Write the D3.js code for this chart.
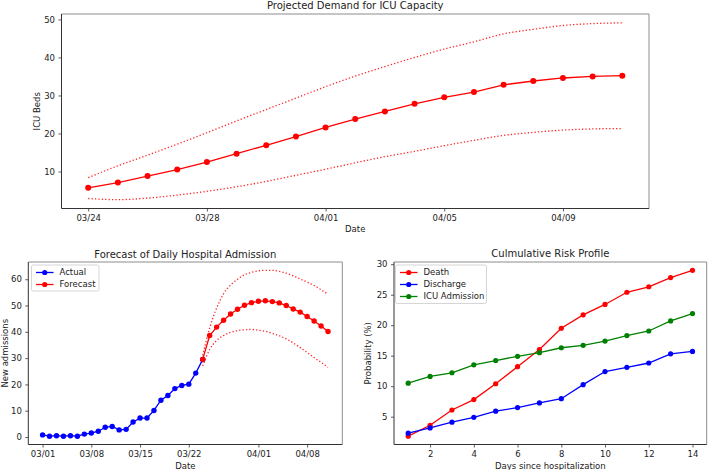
<!DOCTYPE html>
<html>
<head>
<meta charset="utf-8">
<script src="https://cdn.jsdelivr.net/npm/d3@7/dist/d3.min.js"></script>
<style>
  html, body { margin: 0; padding: 0; background: #fff; }
  svg { display: block; }
  text { font-family: "DejaVu Sans", sans-serif; fill: #222; }
</style>
</head>
<body>
<svg id="chart" width="709" height="470"></svg>
<script>
// ---------- DATA ----------
const icuDates = ["2020-03-24","2020-03-25","2020-03-26","2020-03-27","2020-03-28","2020-03-29","2020-03-30","2020-03-31","2020-04-01","2020-04-02","2020-04-03","2020-04-04","2020-04-05","2020-04-06","2020-04-07","2020-04-08","2020-04-09","2020-04-10","2020-04-11"];
const icuMean  = [5.7,7.1,8.8,10.5,12.5,14.7,16.9,19.2,21.6,23.8,25.8,27.8,29.5,30.9,32.8,33.8,34.6,35.0,35.2];
const icuUpper = [8.4,11.5,14.3,17.2,20.2,23.3,26.3,29.3,32.3,35.1,37.6,40.0,42.2,44.1,46.2,47.4,48.4,48.9,49.1];
const icuLower = [2.9,2.6,3.0,3.8,4.8,6.0,7.4,9.0,10.6,12.3,13.9,15.3,16.8,18.2,19.5,20.3,20.9,21.2,21.3];
const icuTicksX = ["2020-03-24","2020-03-28","2020-04-01","2020-04-05","2020-04-09"];
const icuTicksY = [10,20,30,40,50];

const actualDates = ["2020-03-01","2020-03-02","2020-03-03","2020-03-04","2020-03-05","2020-03-06","2020-03-07","2020-03-08","2020-03-09","2020-03-10","2020-03-11","2020-03-12","2020-03-13","2020-03-14","2020-03-15","2020-03-16","2020-03-17","2020-03-18","2020-03-19","2020-03-20","2020-03-21","2020-03-22","2020-03-23","2020-03-24"];
const actualAdm = [0.8,0.3,0.5,0.3,0.5,0.3,1.1,1.5,2.2,3.7,4.0,2.7,2.9,5.7,7.2,7.2,10.1,14.0,15.8,18.4,19.6,20.1,24.3,29.5];
const forecastDates = icuDates;
const forecastAdm   = [29.5,38.6,41.8,44.4,46.8,48.6,50.1,51.1,51.6,51.8,51.5,51.0,50.0,48.7,47.5,45.8,44.1,42.2,40.1];
const forecastUpper = [31.0,41.5,49.0,54.5,57.8,60.0,61.7,62.6,63.2,63.4,63.4,63.0,62.3,61.3,60.1,58.9,57.6,56.0,54.3];
const forecastLower = [27.0,33.3,36.7,38.6,39.8,40.4,40.8,40.9,40.6,40.2,39.4,38.5,37.3,35.8,34.0,32.1,30.2,28.4,26.5];
const admTicksX = ["2020-03-01","2020-03-08","2020-03-15","2020-03-22","2020-04-01","2020-04-08"];
const admTicksY = [0,10,20,30,40,50,60];

const riskDays = [1,2,3,4,5,6,7,8,9,10,11,12,13,14];
const riskDeath     = [1.8,3.6,6.1,7.8,10.4,13.2,16.0,19.5,21.7,23.4,25.4,26.3,27.8,29.0];
const riskDischarge = [2.3,3.15,4.1,4.9,5.9,6.5,7.25,7.95,10.25,12.4,13.1,13.8,15.3,15.7];
const riskICU       = [10.5,11.6,12.2,13.5,14.2,14.9,15.5,16.3,16.7,17.4,18.3,19.05,20.7,21.9];
const riskTicksX = [2,4,6,8,10,12,14];
const riskTicksY = [5,10,15,20,25,30];

// ---------- HELPERS ----------
const svg = d3.select("#chart");
const parse = d3.utcParse("%Y-%m-%d");
const fmt = d3.utcFormat("%m/%d");
const FS = 8.5;
const RED = "#ff0000", BLUE = "#0000ff", GREEN = "#008000";

function padExtent(vals, frac) {
  const [a, b] = d3.extent(vals);
  const m = (b - a) * frac;
  return [a - m, b + m];
}
function padTimeExtent(dates, frac) {
  const [a, b] = d3.extent(dates, d => d.getTime());
  const m = (b - a) * frac;
  return [new Date(a - m), new Date(b + m)];
}

function frame(g, box) {
  g.append("line").attr("x1", box.l).attr("x2", box.r).attr("y1", box.t).attr("y2", box.t)
    .attr("stroke", "#8c8c8c").attr("stroke-width", 1);
  g.append("line").attr("x1", box.r).attr("x2", box.r).attr("y1", box.t).attr("y2", box.b)
    .attr("stroke", "#8c8c8c").attr("stroke-width", 1);
  g.append("line").attr("x1", box.l).attr("x2", box.l).attr("y1", box.t).attr("y2", box.b)
    .attr("stroke", "#333").attr("stroke-width", 1);
  g.append("line").attr("x1", box.l).attr("x2", box.r).attr("y1", box.b).attr("y2", box.b)
    .attr("stroke", "#333").attr("stroke-width", 1);
}

function styleAxis(sel) {
  sel.select(".domain").remove();
  sel.selectAll(".tick line").attr("stroke", "#333").attr("stroke-width", 0.8);
  sel.selectAll(".tick text").attr("font-size", FS).attr("fill", "#222")
     .attr("font-family", "DejaVu Sans, sans-serif");
}

function axes(g, box, x, y, xTicks, yTicks, xFmt) {
  const ax = d3.axisBottom(x).tickValues(xTicks).tickSize(3).tickPadding(3.5).tickSizeOuter(0);
  if (xFmt) ax.tickFormat(xFmt);
  g.append("g").attr("transform", `translate(0,${box.b})`).call(ax).call(styleAxis);
  const ay = d3.axisLeft(y).tickValues(yTicks).tickSize(3).tickPadding(3.5).tickSizeOuter(0)
    .tickFormat(d3.format("d"));
  g.append("g").attr("transform", `translate(${box.l},0)`).call(ay).call(styleAxis);
}

function seriesLine(g, xs, ys, x, y, color, r, dotted, curve) {
  const pts = xs.map((d, i) => [x(d), y(ys[i])]);
  const line = d3.line().curve(curve || d3.curveLinear);
  const p = g.append("path").attr("d", line(pts)).attr("fill", "none").attr("stroke", color);
  if (dotted) {
    p.attr("stroke-width", 1.3).attr("stroke-dasharray", "1.3,2.1").attr("stroke-opacity", 0.85);
  } else {
    p.attr("stroke-width", 1.3);
    g.selectAll(null).data(pts).enter().append("circle")
      .attr("cx", d => d[0]).attr("cy", d => d[1]).attr("r", r).attr("fill", color);
  }
}

function title(g, box, txt, yb) {
  g.append("text").attr("x", (box.l + box.r) / 2).attr("y", yb).attr("text-anchor", "middle")
    .attr("font-size", 10).text(txt);
}
function xlabel(g, box, txt, yb) {
  g.append("text").attr("x", (box.l + box.r) / 2).attr("y", yb).attr("text-anchor", "middle")
    .attr("font-size", FS).text(txt);
}
function ylabel(g, box, txt, xb) {
  const cy = (box.t + box.b) / 2;
  g.append("text").attr("transform", `translate(${xb},${cy}) rotate(-90)`)
    .attr("text-anchor", "middle").attr("font-size", FS).text(txt);
}

function legend(g, x0, y0, w, h, items) {
  g.append("rect").attr("x", x0).attr("y", y0).attr("width", w).attr("height", h)
    .attr("rx", 1.8).attr("fill", "#fff").attr("fill-opacity", 0.8)
    .attr("stroke", "#cccccc").attr("stroke-width", 0.8);
  items.forEach((it, i) => {
    const yy = y0 + 7.5 + i * 12;
    g.append("line").attr("x1", x0 + 4.5).attr("x2", x0 + 22).attr("y1", yy).attr("y2", yy)
      .attr("stroke", it.color).attr("stroke-width", 1.3);
    g.append("circle").attr("cx", x0 + 13.25).attr("cy", yy).attr("r", 2.6).attr("fill", it.color);
    g.append("text").attr("x", x0 + 28).attr("y", yy).attr("dy", "0.35em")
      .attr("font-size", FS).text(it.label);
  });
}

// ---------- CHART 1: ICU demand ----------
{
  const box = {l: 61.5, r: 649, t: 14, b: 208.5};
  const g = svg.append("g");
  const d = icuDates.map(parse);
  const x = d3.scaleUtc().domain(padTimeExtent(d, 0.05)).range([box.l, box.r]);
  const y = d3.scaleLinear().domain(padExtent(icuMean.concat(icuUpper, icuLower), 0.05)).range([box.b, box.t]);
  frame(g, box);
  axes(g, box, x, y, icuTicksX.map(parse), icuTicksY, fmt);
  seriesLine(g, d, icuMean, x, y, RED, 3, false);
  seriesLine(g, d, icuUpper, x, y, RED, 0, true, d3.curveMonotoneX);
  seriesLine(g, d, icuLower, x, y, RED, 0, true, d3.curveMonotoneX);
  title(g, box, "Projected Demand for ICU Capacity", 9);
  xlabel(g, box, "Date", 232);
  ylabel(g, box, "ICU Beds", 40);
}

// ---------- CHART 2: Daily admissions ----------
{
  const box = {l: 28.3, r: 342.3, t: 262, b: 444.5};
  const g = svg.append("g");
  const da = actualDates.map(parse);
  const df = forecastDates.map(parse);
  const x = d3.scaleUtc().domain(padTimeExtent(da.concat(df), 0.05)).range([box.l, box.r]);
  const y = d3.scaleLinear().domain(padExtent(actualAdm.concat(forecastAdm, forecastUpper, forecastLower), 0.05)).range([box.b, box.t]);
  frame(g, box);
  axes(g, box, x, y, admTicksX.map(parse), admTicksY, fmt);
  seriesLine(g, da, actualAdm, x, y, BLUE, 2.7, false);
  seriesLine(g, df, forecastAdm, x, y, RED, 2.7, false);
  seriesLine(g, df, forecastUpper, x, y, RED, 0, true, d3.curveMonotoneX);
  seriesLine(g, df, forecastLower, x, y, RED, 0, true, d3.curveMonotoneX);
  title(g, box, "Forecast of Daily Hospital Admission", 257.5);
  xlabel(g, box, "Date", 469);
  ylabel(g, box, "New admissions", 7.8);
  legend(g, 31.5, 265, 67.5, 26, [{label: "Actual", color: BLUE}, {label: "Forecast", color: RED}]);
}

// ---------- CHART 3: Cumulative risk ----------
{
  const box = {l: 394, r: 706.7, t: 262, b: 444.5};
  const g = svg.append("g");
  const x = d3.scaleLinear().domain(padExtent(riskDays, 0.05)).range([box.l, box.r]);
  const y = d3.scaleLinear().domain(padExtent(riskDeath.concat(riskDischarge, riskICU), 0.05)).range([box.b, box.t]);
  frame(g, box);
  axes(g, box, x, y, riskTicksX, riskTicksY, d3.format("d"));
  seriesLine(g, riskDays, riskDeath, x, y, RED, 2.6, false);
  seriesLine(g, riskDays, riskDischarge, x, y, BLUE, 2.6, false);
  seriesLine(g, riskDays, riskICU, x, y, GREEN, 2.6, false);
  title(g, box, "Culmulative Risk Profile", 257);
  xlabel(g, box, "Days since hospitalization", 469);
  ylabel(g, box, "Probability (%)", 371);
  legend(g, 395.5, 265, 91, 38.5, [{label: "Death", color: RED}, {label: "Discharge", color: BLUE}, {label: "ICU Admission", color: GREEN}]);
}
</script>
</body>
</html>
